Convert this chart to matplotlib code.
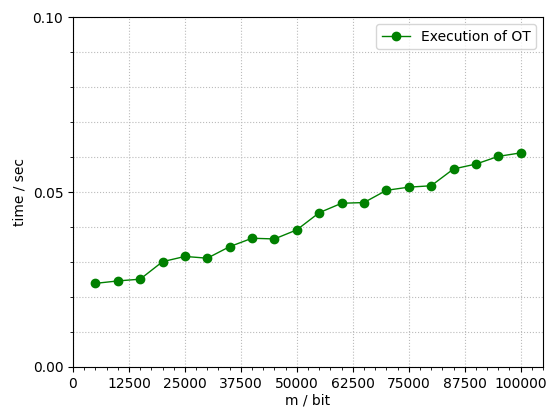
import matplotlib
matplotlib.use('Agg')
import matplotlib.pyplot as plt
from matplotlib.ticker import MultipleLocator, FormatStrFormatter

# message length in bits and measured time
m_bits = [5000, 10000, 15000, 20000, 25000, 30000, 35000, 40000, 45000, 50000,
          55000, 60000, 65000, 70000, 75000, 80000, 85000, 90000, 95000, 100000]
time_sec = [0.0239, 0.0246, 0.0251, 0.0301, 0.0316, 0.0311, 0.0344, 0.0368, 0.0366, 0.0392,
            0.0441, 0.0468, 0.0470, 0.0505, 0.0514, 0.0518, 0.0566, 0.0580, 0.0602, 0.0612]
label = 'Execution of OT'

fig = plt.figure(figsize=(5.53, 4.08), dpi=100)
ax = fig.add_axes([0.132, 0.1005, 0.85, 0.8575])

ax.plot(m_bits, time_sec, color='green', marker='o', markersize=6, linewidth=1, label=label)

ax.set_xlim(0, 105000)
ax.set_ylim(0, 0.10)
ax.xaxis.set_major_locator(MultipleLocator(12500))
ax.xaxis.set_minor_locator(MultipleLocator(2500))
ax.yaxis.set_major_locator(MultipleLocator(0.05))
ax.yaxis.set_minor_locator(MultipleLocator(0.01))
ax.yaxis.set_major_formatter(FormatStrFormatter('%.2f'))

# vertical grid at major ticks only, horizontal at every 0.01
ax.grid(axis='x', which='major', linestyle=':', color='#bbbbbb', linewidth=0.8)
ax.grid(axis='y', which='both', linestyle=':', color='#bbbbbb', linewidth=0.8)
ax.set_xlabel('m / bit', labelpad=2)
ax.set_ylabel('time / sec')
ax.legend(loc='upper right')

fig.savefig('out.png', dpi=100)
